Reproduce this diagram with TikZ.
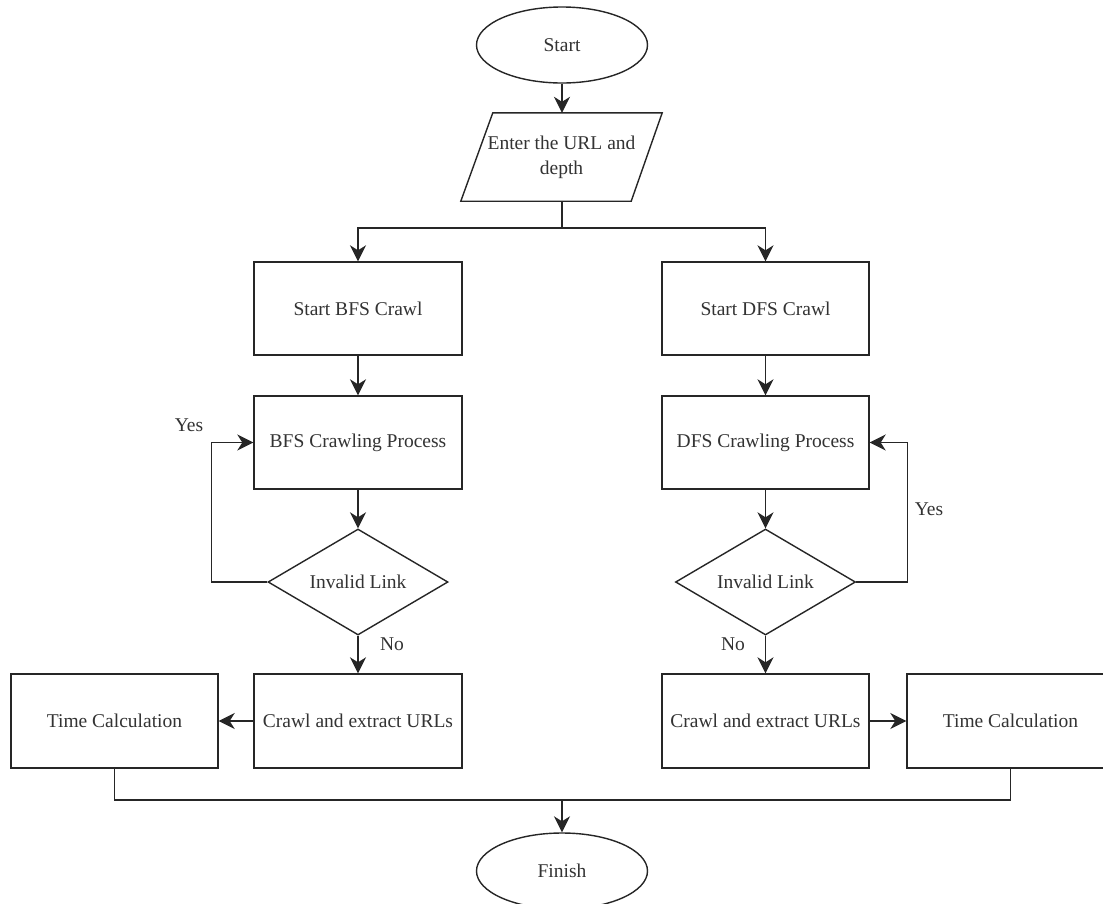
\documentclass[tikz,border=0pt]{standalone}
\usepackage{fontspec}
\setmainfont{Liberation Serif}
\usetikzlibrary{shapes.geometric,arrows.meta,calc}
\begin{document}
\begin{tikzpicture}[x=1pt,y=1pt,
  font=\fontsize{19.5}{25}\selectfont,
  every node/.style={text=black!80},
  line/.style={draw=black!85,line width=1.4pt},
  arr/.style={line,-{Stealth[length=16pt,width=16pt,inset=5pt]}},
  procbox/.style={line,rectangle,minimum width=208pt,minimum height=93pt,inner sep=0pt},
  term/.style={line,ellipse,minimum width=171pt,minimum height=76pt,inner sep=0pt},
  decision/.style={line,diamond,aspect=1.7,minimum width=180pt,minimum height=106pt,inner sep=0pt},
  lbl/.style={inner sep=1pt}]
\path[use as bounding box,clip] (0,0) rectangle (1103,-903);
\fill[white] (0,0) rectangle (1103,-903);

\node[term] (start) at (562,-45) {Start};
\node[minimum width=201pt,minimum height=88pt,inner sep=0pt,align=center] (inp) at (561.5,-157) {Enter the URL and\\depth};
\draw[line] ($(inp.north west)+(32,0)$) -- (inp.north east) -- ($(inp.south east)+(-31,0)$) -- (inp.south west) -- cycle;
\coordinate (split) at (562,-228);

\node[procbox] (bfs1) at (358,-308.5) {Start BFS Crawl};
\node[procbox] (bfs2) at (358,-442.5) {BFS Crawling Process};
\node[decision] (bd) at (358,-582) {Invalid Link};
\node[procbox,minimum height=94pt] (bc) at (358,-721) {Crawl and extract URLs};
\node[procbox,minimum width=207pt,minimum height=94pt] (bt) at (114.5,-721) {Time Calculation};

\node[procbox,minimum width=207pt] (dfs1) at (765.5,-308.5) {Start DFS Crawl};
\node[procbox,minimum width=207pt] (dfs2) at (765.5,-442.5) {DFS Crawling Process};
\node[decision] (dd) at (765.5,-582) {Invalid Link};
\node[procbox,minimum width=207pt,minimum height=94pt] (dc) at (765.5,-721) {Crawl and extract URLs};
\node[procbox,minimum width=207pt,minimum height=94pt] (dt) at (1010.5,-721) {Time Calculation};

\node[term] (finish) at (562,-871) {Finish};
\coordinate (join) at (562,-800);

\draw[arr] (start) -- (inp.north -| start.south);
\draw[line] (inp.south -| start.south) -- (split);
\draw[arr] (split) -| (bfs1.north);
\draw[arr] (split) -| (dfs1.north);

\draw[arr] (bfs1) -- (bfs2);
\draw[arr] (bfs2) -- (bd);
\draw[arr] (bd) -- (bc);
\draw[arr] (bc) -- (bt);
\draw[arr] (bd.west) -- ++(-56,0) |- (bfs2.west);
\node[lbl] (yes1) at (189,-425) {Yes};
\node[lbl] (no1) at (392,-644) {No};

\draw[arr] (dfs1) -- (dfs2);
\draw[arr] (dfs2) -- (dd);
\draw[arr] (dd) -- (dc);
\draw[arr] (dc) -- (dt);
\draw[arr] (dd.east) -- ++(51,0) |- (dfs2.east);
\node[lbl] (yes2) at (929,-509) {Yes};
\node[lbl] (no2) at (733,-644) {No};

\draw[line] (bt.south) |- (join);
\draw[line] (dt.south) |- (join);
\draw[arr] (join) -- (finish);
\end{tikzpicture}
\end{document}
